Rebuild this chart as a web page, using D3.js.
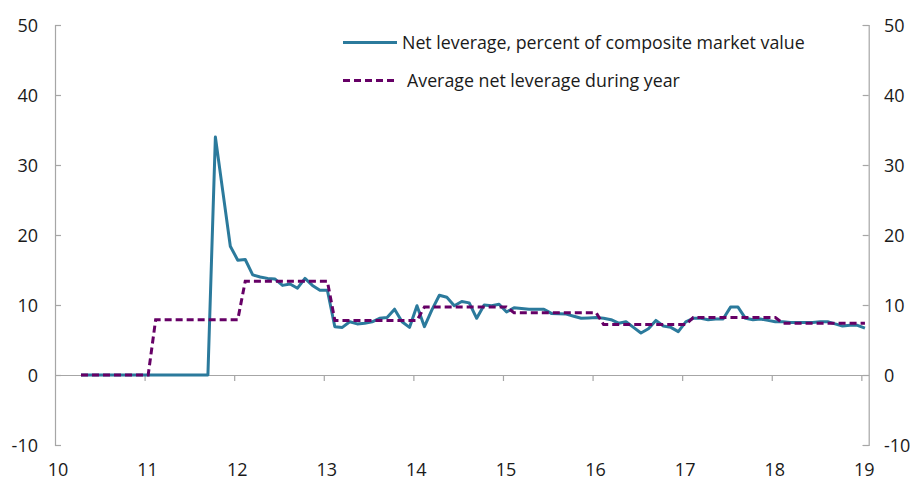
<!DOCTYPE html>
<html>
<head>
<meta charset="utf-8">
<script src="https://cdn.jsdelivr.net/npm/d3@7"></script>
<style>
  body { margin: 0; background: #fff; }
  text { font-family: "Open Sans", Lato, sans-serif; fill: #1a1a1a; }
</style>
</head>
<body>
<svg id="chart" width="917" height="480"></svg>
<script>
// monthly net leverage, percent of composite market value
const netLeverage = [
  0, 0, 0, 0, 0, 0, 0, 0, 0, 0, 0, 0, 0, 0, 0, 0, 0, 0,
  34.0, 26.2, 18.4, 16.4, 16.5, 14.3, 14.0, 13.8, 13.7, 12.8, 13.0, 12.4,
  13.8, 12.8, 12.1, 12.1, 6.9, 6.8, 7.6, 7.3, 7.4, 7.6, 8.1, 8.2,
  9.4, 7.6, 6.8, 9.9, 6.9, 9.3, 11.4, 11.1, 9.9, 10.5, 10.3, 8.1,
  10.0, 9.9, 10.1, 9.0, 9.6, 9.5, 9.4, 9.4, 9.4, 8.8, 8.75, 8.7,
  8.4, 8.1, 8.15, 8.2, 8.1, 7.9, 7.4, 7.6, 6.8, 6.0, 6.6, 7.8,
  7.0, 6.8, 6.2, 7.6, 8.1, 8.1, 7.9, 8.0, 8.0, 9.7, 9.7, 8.1,
  7.9, 8.0, 7.8, 7.6, 7.6, 7.5, 7.5, 7.5, 7.5, 7.6, 7.6, 7.3,
  7.0, 7.1, 7.1, 6.7
];
// yearly average and the number of monthly points it covers
const avgValues = [0, 7.9, 13.4, 7.8, 9.7, 8.9, 7.2, 8.2, 7.4];
const avgMonths = [10, 12, 12, 12, 12, 12, 12, 12, 12];
const xTicks = [10, 11, 12, 13, 14, 15, 16, 17, 18, 19];
const yTicks = [-10, 0, 10, 20, 30, 40, 50];
const firstObs = 10.29; // where the first monthly point sits on the year axis

const legendItems = [
  { label: "Net leverage, percent of composite market value", dash: null },
  { label: "Average net leverage during year", dash: "7,4" }
];

const blue = "#2b7a9c", purple = "#660066", axisGrey = "#a6a6a6";

const svg = d3.select("#chart");
const x = d3.scaleLinear().domain([10, 19.082]).range([55, 868.7]);
const y = d3.scaleLinear().domain([-10, 50]).range([445, 25]);

const avgSeries = [];
avgValues.forEach((v, k) => {
  for (let j = 0; j < avgMonths[k]; j++) avgSeries.push(v);
});
const pos = i => firstObs + i / 12;

// left and right axes
const leftAxis = svg.append("g")
  .attr("transform", `translate(${x(10)},0)`)
  .call(d3.axisRight(y).tickValues(yTicks).tickSize(6).tickFormat(""));
const rightAxis = svg.append("g")
  .attr("transform", `translate(${x.range()[1]},0)`)
  .call(d3.axisLeft(y).tickValues(yTicks).tickSize(6).tickFormat(""));
[leftAxis, rightAxis].forEach(g => {
  g.select(".domain").attr("stroke", axisGrey).attr("stroke-width", 1.2);
  g.selectAll(".tick line").attr("stroke", axisGrey).attr("stroke-width", 1.2);
});

svg.append("g").selectAll("text.yl")
  .data(yTicks).enter().append("text")
  .attr("x", 38).attr("y", d => y(d) + 6.5)
  .attr("text-anchor", "end").style("font-size", "18px")
  .text(d => d);
svg.append("g").selectAll("text.yr")
  .data(yTicks).enter().append("text")
  .attr("x", 884).attr("y", d => y(d) + 6.5)
  .attr("text-anchor", "start").style("font-size", "18px")
  .text(d => d);

// zero line with year ticks
const zeroAxis = svg.append("g")
  .attr("transform", `translate(0,${y(0)})`)
  .call(d3.axisBottom(x).tickValues(xTicks.slice(1)).tickSize(6).tickFormat("").tickSizeOuter(0));
zeroAxis.select(".domain").attr("stroke", axisGrey).attr("stroke-width", 1.2);
zeroAxis.selectAll(".tick line").attr("stroke", axisGrey).attr("stroke-width", 1.2);

svg.append("g").selectAll("text.xl")
  .data(xTicks).enter().append("text")
  .attr("x", d => x(d) + 3).attr("y", 476)
  .attr("text-anchor", "middle").style("font-size", "18px")
  .text(d => d);

const line = d3.line().x((d, i) => x(pos(i))).y(d => y(d));

svg.append("path")
  .datum(netLeverage)
  .attr("d", line)
  .attr("fill", "none")
  .attr("stroke", blue)
  .attr("stroke-width", 3)
  .attr("stroke-linejoin", "round");

svg.append("path")
  .datum(avgSeries)
  .attr("d", line)
  .attr("fill", "none")
  .attr("stroke", purple)
  .attr("stroke-width", 3)
  .attr("stroke-dasharray", "7,4");

// legend
const legend = svg.append("g");
legendItems.forEach((item, k) => {
  const ly = k === 0 ? 42.5 : 80.5;
  legend.append("line")
    .attr("x1", 343).attr("x2", 397).attr("y1", ly).attr("y2", ly)
    .attr("stroke", k === 0 ? blue : purple)
    .attr("stroke-width", 3)
    .attr("stroke-dasharray", item.dash);
  legend.append("text")
    .attr("x", k === 0 ? 402 : 407).attr("y", ly + 6)
    .style("font-size", "17.8px")
    .text(item.label);
});
</script>
</body>
</html>
